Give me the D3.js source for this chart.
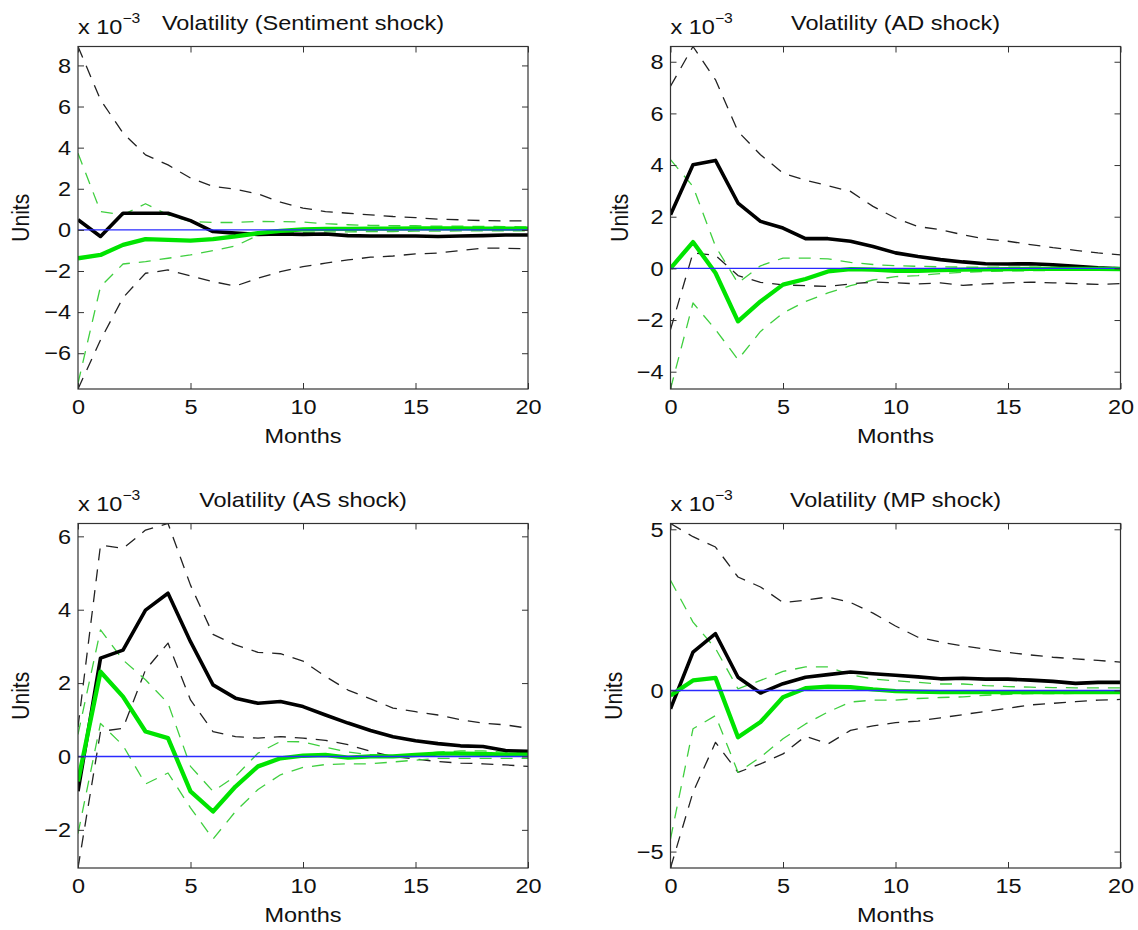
<!DOCTYPE html>
<html>
<head>
<meta charset="utf-8">
<script src="https://cdn.jsdelivr.net/npm/d3@7/dist/d3.min.js"></script>
<style>
  body { margin: 0; background: #fff; }
  svg text { font-family: "Liberation Sans", Arial, Helvetica, sans-serif; fill: #111; }
</style>
</head>
<body>
<div id="chart"></div>
<script>
// months after the shock
var months = [0, 1, 2, 3, 4, 5, 6, 7, 8, 9, 10, 11, 12, 13, 14, 15, 16, 17, 18, 19, 20];
var xTicks = [0, 5, 10, 15, 20];

// sentiment shock (units x 1e-3)
var sentBlack   = [0.49, -0.32, 0.81, 0.81, 0.81, 0.45, -0.08, -0.16, -0.22, -0.2, -0.22, -0.2, -0.28, -0.3, -0.3, -0.3, -0.32, -0.3, -0.28, -0.25, -0.25];
var sentBlackHi = [8.92, 6.33, 4.71, 3.65, 3.16, 2.52, 2.11, 1.98, 1.75, 1.35, 1.06, 0.89, 0.81, 0.73, 0.65, 0.6, 0.52, 0.49, 0.45, 0.44, 0.44];
var sentBlackLo = [-7.74, -5.36, -3.3, -2.11, -1.95, -2.24, -2.52, -2.73, -2.35, -2.03, -1.79, -1.62, -1.46, -1.33, -1.27, -1.17, -1.13, -1.0, -0.89, -0.89, -0.93];
var sentGreen   = [-1.38, -1.22, -0.73, -0.45, -0.49, -0.52, -0.45, -0.32, -0.16, -0.05, 0.02, 0.05, 0.05, 0.06, 0.06, 0.07, 0.07, 0.07, 0.06, 0.06, 0.06];
var sentGreenHi = [3.73, 0.89, 0.73, 1.27, 0.73, 0.41, 0.36, 0.36, 0.41, 0.4, 0.38, 0.3, 0.25, 0.22, 0.2, 0.2, 0.18, 0.18, 0.17, 0.16, 0.15];
var sentGreenLo = [-7.46, -2.76, -1.66, -1.54, -1.38, -1.22, -1.01, -0.78, -0.26, -0.15, -0.12, -0.1, -0.1, -0.08, -0.08, -0.06, -0.06, -0.05, -0.05, -0.05, -0.05];

// AD shock
var adBlack   = [2.08, 4.01, 4.18, 2.53, 1.82, 1.56, 1.15, 1.15, 1.05, 0.85, 0.6, 0.46, 0.34, 0.25, 0.18, 0.17, 0.18, 0.14, 0.08, 0.02, -0.02];
var adBlackHi = [7.05, 8.59, 7.3, 5.3, 4.4, 3.69, 3.41, 3.2, 2.98, 2.4, 1.95, 1.62, 1.5, 1.3, 1.14, 1.05, 0.92, 0.8, 0.7, 0.6, 0.52];
var adBlackLo = [-2.37, 0.6, 0.5, -0.28, -0.54, -0.64, -0.67, -0.7, -0.6, -0.53, -0.56, -0.6, -0.56, -0.66, -0.6, -0.56, -0.53, -0.56, -0.59, -0.62, -0.59];
var adGreen   = [0, 1.02, -0.18, -2.05, -1.28, -0.63, -0.41, -0.12, -0.03, -0.05, -0.1, -0.1, -0.07, -0.05, -0.04, -0.03, -0.02, -0.02, -0.02, -0.02, -0.03];
var adGreenHi = [4.21, 3.17, 0.85, -0.57, 0.1, 0.4, 0.4, 0.37, 0.23, 0.15, 0.1, 0.08, 0.06, 0.05, 0.05, 0.05, 0.05, 0.05, 0.04, 0.04, 0.04];
var adGreenLo = [-4.67, -1.34, -2.37, -3.53, -2.44, -1.73, -1.28, -0.95, -0.67, -0.45, -0.32, -0.28, -0.2, -0.15, -0.12, -0.1, -0.09, -0.08, -0.08, -0.08, -0.08];

// AS shock
var asBlack   = [-0.95, 2.68, 2.9, 3.99, 4.45, 3.13, 1.95, 1.59, 1.45, 1.5, 1.36, 1.13, 0.91, 0.71, 0.54, 0.43, 0.35, 0.29, 0.27, 0.16, 0.14];
var asBlackHi = [0.8, 5.76, 5.67, 6.17, 6.35, 4.67, 3.33, 3.04, 2.84, 2.8, 2.6, 2.18, 1.81, 1.57, 1.32, 1.22, 1.13, 1.0, 0.91, 0.86, 0.77];
var asBlackLo = [-3.04, 0.68, 0.77, 2.36, 3.09, 1.54, 0.68, 0.54, 0.5, 0.54, 0.5, 0.44, 0.32, 0.14, 0, -0.07, -0.14, -0.18, -0.2, -0.23, -0.27];
var asGreen   = [-0.68, 2.31, 1.63, 0.68, 0.5, -0.95, -1.5, -0.82, -0.27, -0.05, 0.02, 0.04, -0.03, 0, 0, 0.04, 0.08, 0.08, 0.07, 0.05, 0.05];
var asGreenHi = [0.6, 3.45, 2.63, 2.09, 1.45, -0.27, -0.95, -0.54, 0.09, 0.41, 0.4, 0.25, 0.12, 0.05, 0.02, 0.05, 0.12, 0.15, 0.15, 0.12, 0.1];
var asGreenLo = [-2.1, 0.9, 0.3, -0.75, -0.45, -1.4, -2.25, -1.5, -0.9, -0.5, -0.3, -0.22, -0.2, -0.2, -0.15, -0.1, -0.05, -0.05, -0.05, -0.05, -0.05];

// MP shock
var mpBlack   = [-0.57, 1.19, 1.76, 0.41, -0.08, 0.21, 0.41, 0.49, 0.57, 0.52, 0.47, 0.42, 0.36, 0.38, 0.35, 0.35, 0.32, 0.28, 0.22, 0.25, 0.25];
var mpBlackHi = [5.18, 4.77, 4.45, 3.52, 3.21, 2.73, 2.8, 2.9, 2.73, 2.4, 2.0, 1.65, 1.5, 1.38, 1.28, 1.18, 1.1, 1.03, 0.98, 0.93, 0.88];
var mpBlackLo = [-5.51, -3.16, -1.61, -2.54, -2.28, -1.97, -1.42, -1.66, -1.24, -1.1, -1.0, -0.95, -0.85, -0.75, -0.65, -0.55, -0.45, -0.4, -0.35, -0.3, -0.28];
var mpGreen   = [-0.16, 0.31, 0.39, -1.45, -0.98, -0.21, 0.07, 0.12, 0.1, 0.03, -0.02, -0.04, -0.05, -0.05, -0.05, -0.05, -0.05, -0.05, -0.05, -0.05, -0.05];
var mpGreenHi = [3.42, 2.12, 1.3, 0.05, 0.31, 0.59, 0.73, 0.73, 0.49, 0.35, 0.3, 0.25, 0.2, 0.2, 0.15, 0.12, 0.1, 0.09, 0.08, 0.08, 0.08];
var mpGreenLo = [-4.61, -1.19, -0.78, -2.54, -2.07, -1.5, -1.04, -0.67, -0.36, -0.3, -0.3, -0.25, -0.22, -0.2, -0.15, -0.12, -0.1, -0.1, -0.09, -0.08, -0.08];

var titles = ["Volatility (Sentiment shock)", "Volatility (AD shock)", "Volatility (AS shock)", "Volatility (MP shock)"];
var yTicksList = [[-6, -4, -2, 0, 2, 4, 6, 8], [-4, -2, 0, 2, 4, 6, 8], [-2, 0, 2, 4, 6], [-5, 0, 5]];

var W = 1138, H = 930;
var FS = 21;
var SX = 1.12; // the picture is a bit wider than tall, stretch the text like it

// axes boxes (pixels) and ylabel x-offsets
var boxes = [
    {x0: 78, x1: 528, y0: 46.5, y1: 389, ylab: 22},
    {x0: 670.5, x1: 1120.5, y0: 46.5, y1: 389, ylab: 621},
    {x0: 78, x1: 528, y0: 523.5, y1: 868, ylab: 22},
    {x0: 670.5, x1: 1120.5, y0: 523.5, y1: 868, ylab: 615}
];

var panels = [
    {bHi: sentBlackHi, bLo: sentBlackLo, b: sentBlack, gHi: sentGreenHi, gLo: sentGreenLo, g: sentGreen},
    {bHi: adBlackHi, bLo: adBlackLo, b: adBlack, gHi: adGreenHi, gLo: adGreenLo, g: adGreen},
    {bHi: asBlackHi, bLo: asBlackLo, b: asBlack, gHi: asGreenHi, gLo: asGreenLo, g: asGreen},
    {bHi: mpBlackHi, bLo: mpBlackLo, b: mpBlack, gHi: mpGreenHi, gLo: mpGreenLo, g: mpGreen}
];

var svg = d3.select("#chart").append("svg")
    .attr("width", W).attr("height", H)
    .style("background", "#fff");

function putText(parent, px, py, anchor) {
    return parent.append("text")
        .attr("transform", "translate(" + px + "," + py + ") scale(" + SX + ",1)")
        .attr("text-anchor", anchor)
        .style("font-size", FS + "px");
}

panels.forEach(function (p, i) {
    var box = boxes[i];
    var all = [].concat(p.bHi, p.bLo, p.b, p.gHi, p.gLo, p.g);

    var x = d3.scaleLinear().domain([0, 20]).range([box.x0, box.x1]);
    var y = d3.scaleLinear().domain(d3.extent(all)).range([box.y1, box.y0]);

    var g = svg.append("g").attr("class", "panel");

    g.append("clipPath").attr("id", "clip" + i)
        .append("rect")
        .attr("x", box.x0).attr("y", box.y0)
        .attr("width", box.x1 - box.x0).attr("height", box.y1 - box.y0);

    var line = d3.line()
        .x(function (d, k) { return x(months[k]); })
        .y(function (d) { return y(d); });

    var plot = g.append("g").attr("clip-path", "url(#clip" + i + ")");

    // bands first, then point estimates, zero line on top
    var series = [
        {data: p.bHi, color: "#222", w: 1.3, dash: "12,9"},
        {data: p.bLo, color: "#222", w: 1.3, dash: "12,9"},
        {data: p.gHi, color: "#3fcf3f", w: 1.3, dash: "12,9"},
        {data: p.gLo, color: "#3fcf3f", w: 1.3, dash: "12,9"},
        {data: p.b, color: "#000", w: 3.6, dash: null},
        {data: p.g, color: "#00e400", w: 4.3, dash: null}
    ];

    series.forEach(function (s) {
        plot.append("path")
            .datum(s.data)
            .attr("d", line)
            .style("fill", "none")
            .style("stroke", s.color)
            .style("stroke-width", s.w)
            .style("stroke-linejoin", "round")
            .style("stroke-dasharray", s.dash);
    });

    plot.append("line")
        .attr("x1", x(0)).attr("x2", x(20))
        .attr("y1", y(0)).attr("y2", y(0))
        .style("stroke", "#2a2aff")
        .style("stroke-width", 1.4);

    // axes, matlab style ticks pointing inwards on all four sides
    var axL = g.append("g").attr("transform", "translate(" + box.x0 + ",0)")
        .call(d3.axisLeft(y).tickValues(yTicksList[i]).tickSizeInner(-6).tickSizeOuter(0).tickPadding(7));
    g.append("g").attr("transform", "translate(" + box.x1 + ",0)")
        .call(d3.axisRight(y).tickValues(yTicksList[i]).tickSizeInner(-6).tickSizeOuter(0).tickFormat(""));
    var axB = g.append("g").attr("transform", "translate(0," + box.y1 + ")")
        .call(d3.axisBottom(x).tickValues(xTicks).tickSizeInner(-6).tickSizeOuter(0).tickPadding(10));
    g.append("g").attr("transform", "translate(0," + box.y0 + ")")
        .call(d3.axisTop(x).tickValues(xTicks).tickSizeInner(-6).tickSizeOuter(0).tickFormat(""));

    g.selectAll(".domain").remove();
    g.selectAll(".tick line").style("stroke", "#333").style("stroke-width", 1);
    g.selectAll(".tick text")
        .attr("transform", "scale(" + SX + ",1)")
        .style("font-size", FS + "px")
        .style("font-family", "'Liberation Sans', Arial, sans-serif")
        .style("fill", "#111");
    axL.selectAll(".tick text")
        .attr("x", -7 / SX)
        .text(function (d) { return d < 0 ? "\u2212" + Math.abs(d) : d; });

    g.append("rect")
        .attr("x", box.x0).attr("y", box.y0)
        .attr("width", box.x1 - box.x0).attr("height", box.y1 - box.y0)
        .style("fill", "none").style("stroke", "#333").style("stroke-width", 1.2);

    // title
    putText(g, (box.x0 + box.x1) / 2, box.y0 - 17, "middle").text(titles[i]);

    // exponent label
    var ex = putText(g, box.x0, box.y0 - 13, "start");
    ex.append("tspan").text("x 10");
    ex.append("tspan").attr("dy", -11).style("font-size", "14px").text("\u22123");

    // axis labels
    putText(g, (box.x0 + box.x1) / 2, box.y1 + 54, "middle").text("Months");

    g.append("text")
        .attr("transform", "translate(" + (box.ylab + 7) + "," + ((box.y0 + box.y1) / 2) + ") rotate(-90) scale(1,1.1)")
        .attr("text-anchor", "middle")
        .style("font-size", FS + "px")
        .text("Units");
});
</script>
</body>
</html>
